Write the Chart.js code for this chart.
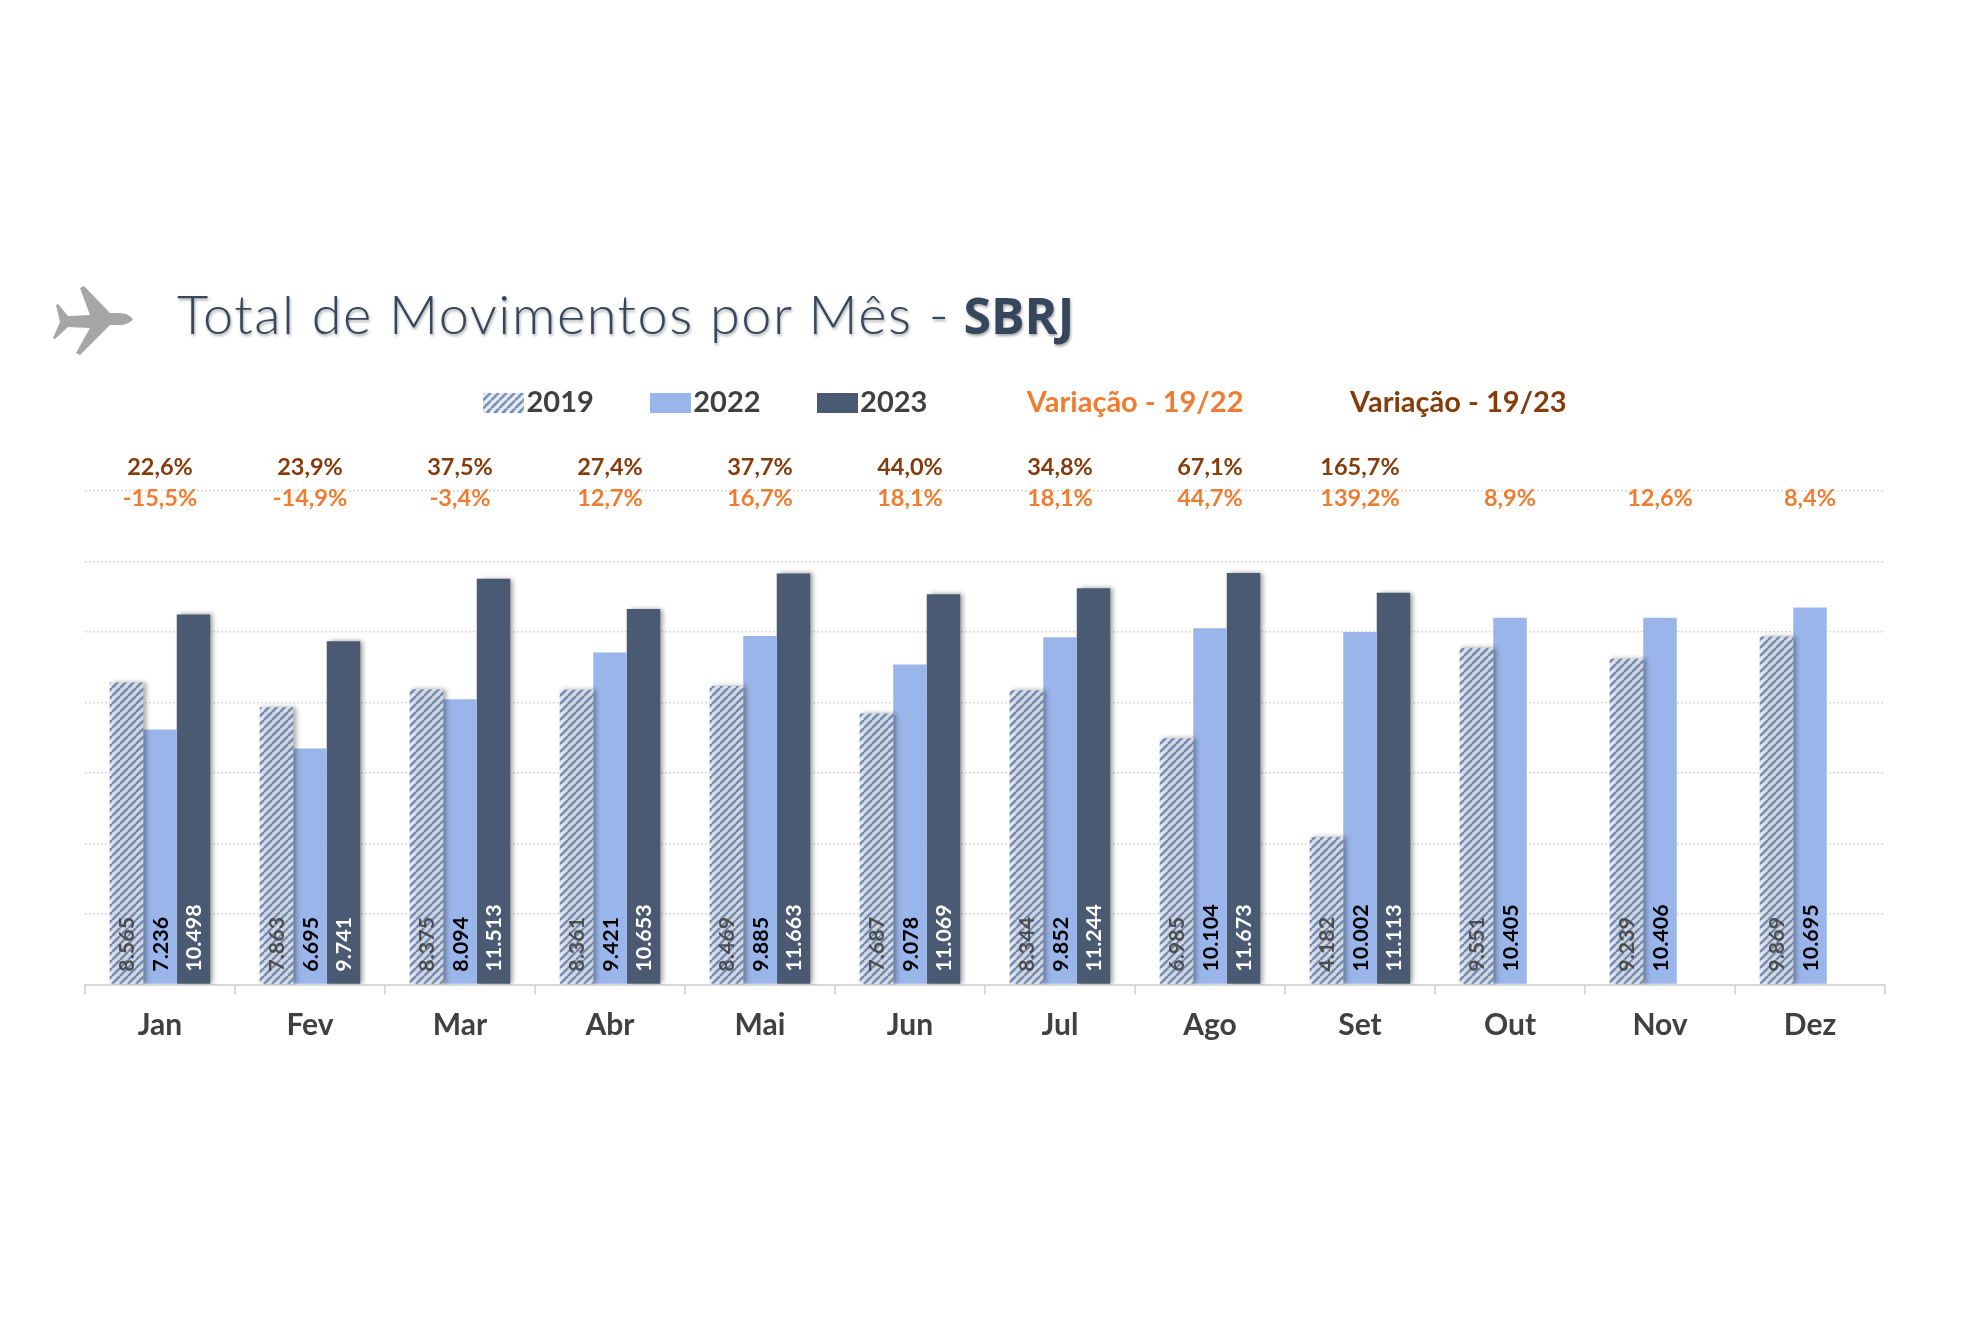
<!DOCTYPE html>
<html><head><meta charset="utf-8">
<script src="https://cdn.jsdelivr.net/npm/chart.js@4"></script>
<style>
html,body{margin:0;padding:0;background:#fff;width:1980px;height:1320px;overflow:hidden}
#wrap{position:relative;width:1980px;height:1320px}
#c{position:absolute;left:0;top:0}
#title{position:absolute;left:177px;top:281px;font:300 54px Lato,sans-serif;letter-spacing:1.55px;color:#36465c;white-space:pre;text-shadow:1px 2px 3px rgba(0,0,0,.35)}
#title b{font:700 50px "Open Sans",sans-serif;letter-spacing:0;margin-left:-3px}
#plane{position:absolute;left:50px;top:285px}
</style></head><body>
<div id="wrap">
<svg id="plane" width="86" height="74" viewBox="0 0 86 74"><path fill="#a6a6a6" d="M83 34.5C80 30 75 28 68 28L60 28 34 1 30 3 40 30 18 31 8 19 6 20 10 37 3 53 5 54 18 42 40 43 26 68 30 70 60 40 68 40C75 40 80 38 83 34.5Z"/></svg>
<div id="title">Total de Movimentos por Mês - <b>SBRJ</b></div>
<canvas id="c" width="1980" height="1320"></canvas>
</div>
<script>
const months=['Jan','Fev','Mar','Abr','Mai','Jun','Jul','Ago','Set','Out','Nov','Dez'];
const s2019=[8565,7863,8375,8361,8469,7687,8344,6985,4182,9551,9239,9869];
const s2022=[7236,6695,8094,9421,9885,9078,9852,10104,10002,10405,10406,10695];
const s2023=[10498,9741,11513,10653,11663,11069,11244,11673,11113,null,null,null];
const var1922=['-15,5%','-14,9%','-3,4%','12,7%','16,7%','18,1%','18,1%','44,7%','139,2%','8,9%','12,6%','8,4%'];
const var1923=['22,6%','23,9%','37,5%','27,4%','37,7%','44,0%','34,8%','67,1%','165,7%','','',''];
const C22='#9ab5e9',C23='#4a5a73',ORANGE='#ee7d31',BROWN='#843c0c';
function hatch(){
  const k=document.createElement('canvas');k.width=k.height=8;
  const g=k.getContext('2d');
  g.fillStyle='rgba(225,230,238,.75)';g.fillRect(0,0,8,8);
  g.strokeStyle='#6f8ab3';g.lineWidth=2.4;
  for(let i=-8;i<=16;i+=8){g.beginPath();g.moveTo(i,8);g.lineTo(i+8,0);g.stroke();}
  return k;
}
const pctx=document.getElementById('c').getContext('2d');
const hatchFill=pctx.createPattern(hatch(),'repeat');
function swatch(fill){
  const k=document.createElement('canvas');k.width=41;k.height=20;
  const g=k.getContext('2d');
  if(fill){g.fillStyle=fill;g.fillRect(0,0,41,20);}
  return k;
}
const fmt=v=>String(v).replace(/\B(?=(\d{3})+$)/g,'.');
const barShadow={id:'barShadow',
  beforeDatasetDraw(ch,a){const d=ch.data.datasets[a.index];const x=ch.ctx;x.save();
    if(d.label!=='2022'){x.shadowColor='rgba(0,0,0,.4)';x.shadowBlur=5;x.shadowOffsetX=3;x.shadowOffsetY=0;}},
  afterDatasetDraw(ch){ch.ctx.restore();}
};
const valueLabels={id:'valueLabels',afterDatasetsDraw(ch){
  const x=ch.ctx,sty=[['rgba(60,60,60,.85)','700'],['#000','700'],['#fff','700']];
  ch.data.datasets.forEach((d,i)=>{
    const m=ch.getDatasetMeta(i);
    d.data.forEach((v,j)=>{ if(v==null)return;
      const b=m.data[j];x.save();x.translate(b.x+1,b.base-12);x.rotate(-Math.PI/2);
      x.font=sty[i][1]+' 21.5px Lato';x.fillStyle=sty[i][0];x.textAlign='left';x.textBaseline='middle';
      x.fillText(fmt(v),0,0);x.restore();});
  });
}};
const pctLabels={id:'pctLabels',afterDraw(ch){
  const x=ch.ctx,sc=ch.scales.x,top=ch.chartArea.top;
  x.save();x.textAlign='center';x.textBaseline='middle';x.font='700 23.5px Lato';
  months.forEach((_,i)=>{const px=sc.getPixelForTick(i);
    x.fillStyle=BROWN;if(var1923[i])x.fillText(var1923[i],px,top-24);
    x.fillStyle=ORANGE;x.fillText(var1922[i],px,top+7);});
  x.restore();
}};
const placeLegend={id:'placeLegend',afterLayout(ch){const l=ch.legend;const p=l.options.labels.padding;l.left=495-p;l.top=388-p;}};
new Chart(document.getElementById('c'),{
  type:'bar',
  data:{labels:months,datasets:[
    {label:'2019',data:s2019,backgroundColor:hatchFill},
    {label:'2022',data:s2022,backgroundColor:C22},
    {label:'2023',data:s2023,backgroundColor:C23}
  ]},
  plugins:[barShadow,valueLabels,pctLabels,placeLegend],
  options:{responsive:false,animation:false,devicePixelRatio:1,
    layout:{padding:{left:85,right:95,top:384,bottom:263.5}},
    datasets:{bar:{categoryPercentage:0.67,barPercentage:1,borderWidth:0}},
    plugins:{tooltip:{enabled:false},title:{display:false},
      legend:{display:true,position:'top',align:'start',
        labels:{usePointStyle:true,pointStyleWidth:17,padding:68,font:{family:'Lato',size:29,weight:'700'},color:'#404040',
          generateLabels(){return [
            {text:'2019',pointStyle:swatch(hatchFill),fontColor:'#404040',datasetIndex:0,hidden:false,lineWidth:0,strokeStyle:'transparent'},
            {text:'2022',pointStyle:swatch(C22),fontColor:'#404040',datasetIndex:1,hidden:false,lineWidth:0,strokeStyle:'transparent'},
            {text:'2023',pointStyle:swatch(C23),fontColor:'#404040',datasetIndex:2,hidden:false,lineWidth:0,strokeStyle:'transparent'},
            {text:'Variação - 19/22 ',pointStyle:swatch(null),fontColor:ORANGE,hidden:false,lineWidth:0,strokeStyle:'transparent'},
            {text:'Variação - 19/23',pointStyle:swatch(null),fontColor:BROWN,hidden:false,lineWidth:0,strokeStyle:'transparent'}
          ];}}}},
    scales:{
      x:{offset:true,grid:{display:true,offset:true,drawOnChartArea:false,drawTicks:true,tickLength:10,color:'#d9d9d9',lineWidth:2},
         border:{display:true,color:'#d9d9d9',width:2},
         ticks:{color:'#404040',font:{family:'Lato',size:30,weight:'700'},padding:13,maxRotation:0}},
      y:{min:0,max:14000,ticks:{stepSize:2000,display:false},
         grid:{color:'#d9d9d9',lineWidth:1.5,drawTicks:false},
         border:{display:false,dash:[2,2]}}
    }
  }
});
</script>
</body></html>
